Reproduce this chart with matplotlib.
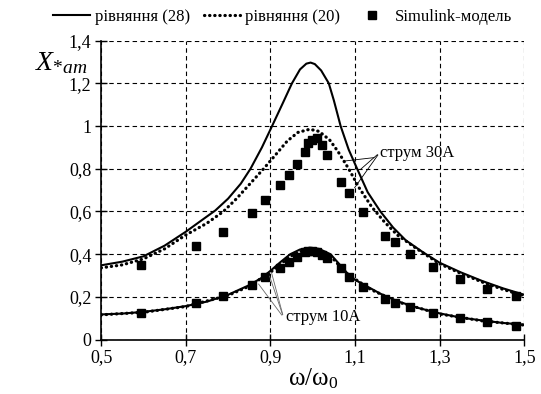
import matplotlib.pyplot as plt

plt.rcParams["font.family"] = "serif"
plt.rcParams["font.serif"] = ["Liberation Serif", "DejaVu Serif"]
plt.rcParams["mathtext.fontset"] = "custom"
plt.rcParams["mathtext.rm"] = "Liberation Serif"
plt.rcParams["mathtext.it"] = "Liberation Serif:italic"

# струм 30A, рівняння (28)
x28_30 = [0.5, 0.55, 0.6, 0.65, 0.7, 0.73, 0.77, 0.8, 0.83, 0.853, 0.88, 0.904, 0.93, 0.951, 0.97,
          0.985, 0.995, 1.005, 1.02, 1.038, 1.05, 1.066, 1.085, 1.105, 1.13, 1.16, 1.19, 1.22, 1.26,
          1.3, 1.35, 1.4, 1.45, 1.5]
y28_30 = [0.348, 0.365, 0.39, 0.44, 0.505, 0.548, 0.605, 0.66, 0.73, 0.8, 0.9, 1.0, 1.11, 1.2, 1.265,
          1.292, 1.297, 1.29, 1.26, 1.2, 1.12, 1.0, 0.89, 0.8, 0.69, 0.6, 0.525, 0.465, 0.41,
          0.36, 0.315, 0.275, 0.24, 0.21]
# струм 30A, рівняння (20)
x20_30 = [0.5, 0.55, 0.6, 0.65, 0.7, 0.75, 0.789, 0.82, 0.852, 0.884, 0.91, 0.94, 0.965, 0.993,
          1.015, 1.04, 1.06, 1.085, 1.11, 1.14, 1.17, 1.2, 1.25, 1.3, 1.35, 1.4, 1.45, 1.5]
y20_30 = [0.336, 0.35, 0.378, 0.425, 0.49, 0.545, 0.6, 0.66, 0.73, 0.8, 0.86, 0.93, 0.97, 0.985,
          0.975, 0.935, 0.88, 0.8, 0.71, 0.62, 0.55, 0.49, 0.42, 0.355, 0.31, 0.27, 0.235, 0.205]
# струм 10A, рівняння (28)
x28_10 = [0.5, 0.55, 0.6, 0.65, 0.7, 0.75, 0.8, 0.85, 0.88, 0.9, 0.925, 0.947, 0.97, 0.993, 1.015,
          1.042, 1.06, 1.08, 1.1, 1.137, 1.16, 1.2, 1.25, 1.3, 1.35, 1.4, 1.45, 1.5]
y28_10 = [0.118, 0.122, 0.13, 0.142, 0.157, 0.178, 0.21, 0.255, 0.29, 0.322, 0.365, 0.4, 0.422, 0.43,
          0.425, 0.4, 0.36, 0.315, 0.28, 0.24, 0.215, 0.18, 0.148, 0.123, 0.103, 0.09, 0.078, 0.07]
# струм 10A, рівняння (20)
x20_10 = [0.5, 0.6, 0.7, 0.8, 0.85, 0.9, 0.947, 0.97, 0.993, 1.015, 1.042, 1.08, 1.137, 1.2, 1.3,
          1.4, 1.5]
y20_10 = [0.116, 0.128, 0.155, 0.207, 0.25, 0.315, 0.39, 0.412, 0.42, 0.415, 0.392, 0.31, 0.235,
          0.177, 0.12, 0.088, 0.068]

# Simulink-модель
xs = [0.594, 0.724, 0.789, 0.856, 0.888, 0.922, 0.943, 0.963, 0.982, 0.990, 0.998, 1.010, 1.022,
      1.034, 1.066, 1.085, 1.119, 1.172, 1.195, 1.23, 1.284, 1.348, 1.413, 1.481]
ys_30 = [0.349, 0.437, 0.502, 0.594, 0.653, 0.722, 0.769, 0.822, 0.88, 0.919, 0.934, 0.942, 0.911,
         0.864, 0.739, 0.685, 0.597, 0.486, 0.455, 0.40, 0.338, 0.285, 0.238, 0.205]
ys_10 = [0.127, 0.170, 0.204, 0.257, 0.294, 0.333, 0.364, 0.388, 0.408, 0.414, 0.416, 0.412, 0.398,
         0.38, 0.333, 0.294, 0.247, 0.191, 0.172, 0.151, 0.123, 0.101, 0.082, 0.066]

xticks = [0.5, 0.7, 0.9, 1.1, 1.3, 1.5]
xticklabels = ["0,5", "0,7", "0,9", "1,1", "1,3", "1,5"]
yticks = [0, 0.2, 0.4, 0.6, 0.8, 1.0, 1.2, 1.4]
yticklabels = ["0", "0,2", "0,4", "0,6", "0,8", "1", "1,2", "1,4"]

dots = (0, (0.1, 1.5))

fig = plt.figure(figsize=(5.41, 3.94), dpi=100)
ax = fig.add_axes([0.187, 0.138, 0.782, 0.759])

ax.plot(x28_30, y28_30, color="black", lw=1.5, label="рівняння (28)")
ax.plot(x20_30, y20_30, color="black", lw=2.3, linestyle=dots, dash_capstyle="round",
        label="рівняння (20)")
ax.plot(x28_10, y28_10, color="black", lw=1.5)
ax.plot(x20_10, y20_10, color="black", lw=2.3, linestyle=dots, dash_capstyle="round")
ax.plot(xs, ys_30, "s", color="black", ms=6, label="Simulink-модель")
ax.plot(xs, ys_10, "s", color="black", ms=6)

# підписи
ax.annotate("струм 30А", xy=(1.07, 0.835), xytext=(1.158, 0.875), fontsize=12, va="center",
            arrowprops=dict(arrowstyle="-", color="black", lw=0.6))
ax.annotate("", xy=(1.109, 0.79), xytext=(1.158, 0.875),
            arrowprops=dict(arrowstyle="-", color="black", lw=0.6))
ax.annotate("", xy=(1.095, 0.70), xytext=(1.158, 0.875),
            arrowprops=dict(arrowstyle="-", color="black", lw=0.6))
for p in [(0.868, 0.271), (0.896, 0.31), (0.901, 0.326)]:
    ax.annotate("", xy=p, xytext=(0.931, 0.104),
                arrowprops=dict(arrowstyle="-", color="dimgray", lw=0.6))
ax.text(0.938, 0.104, "струм 10А", fontsize=12, va="center")

ax.set_xlim(0.5, 1.5)
ax.set_ylim(0, 1.4)
ax.set_xticks(xticks)
ax.set_xticklabels(xticklabels)
ax.set_yticks(yticks)
ax.set_yticklabels(yticklabels)
ax.tick_params(direction="inout", length=8, width=1, labelsize=13, colors="black", pad=3)
ax.grid(True, color="black", linestyle=(0, (4, 3)), lw=0.8)
ax.spines["top"].set_visible(False)
ax.spines["right"].set_visible(False)
ax.spines["left"].set_linewidth(1.2)
ax.spines["bottom"].set_linewidth(1.2)

fig.text(0.065, 0.84, r"$X_{*am}$", fontsize=20, ha="left", va="center")
ax.set_xlabel(r"ω/ω$_{\mathrm{0}}$", fontsize=18, labelpad=0)

fig.legend(loc="upper right", bbox_to_anchor=(0.975, 1.015), ncol=3, frameon=False, fontsize=12,
           handlelength=2.2, handletextpad=0.3, columnspacing=0.8)

plt.savefig("out.png")
